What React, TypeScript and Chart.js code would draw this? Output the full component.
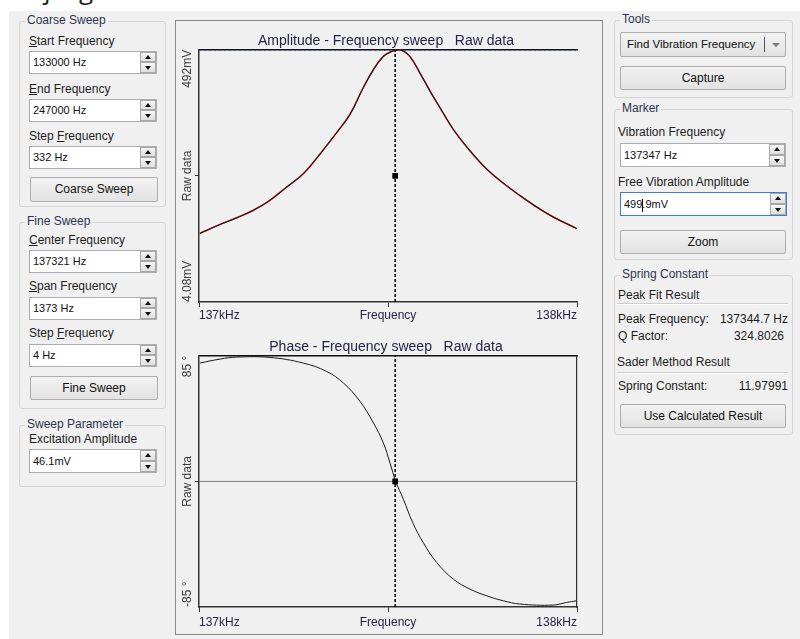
import React, { useEffect, useRef } from 'react';
import { Chart, registerables } from 'chart.js';

Chart.register(...registerables);

// ---------------- data ----------------
const freqMin = 136634.5;
const freqCenter = 137321;
const freqMax = 138007.5;
const markerFrequency = 137347;

const ampMin = 4.08;
const ampMax = 492;
const ampMarkerValue = 248.04;
const phaseMin = -85;
const phaseMax = 85;
const phaseMarkerValue = 0;

const ampTitle = 'Amplitude - Frequency sweep   Raw data';
const phaseTitle = 'Phase - Frequency sweep   Raw data';
const xTickLabels = ['137kHz', 'Frequency', '138kHz'];
const ampAxisLabels = ['4.08mV', 'Raw data', '492mV'];
const phaseAxisLabels = ['-85 °', 'Raw data', '85 °'];

const ampFreq = [136638, 136711, 136771, 136832, 136892, 136953, 137013, 137074, 137135, 137183, 137231, 137268, 137304, 137334, 137358, 137377, 137401, 137437, 137474, 137510, 137558, 137619, 137679, 137740, 137800, 137861, 137921, 138007];
const ampRaw = [136.6, 153.9, 166.8, 181.4, 200.6, 226.3, 251.9, 290.3, 332.0, 367.1, 418.4, 453.6, 479.1, 488.7, 492.0, 489.5, 479.1, 447.3, 411.9, 380.0, 338.3, 296.6, 261.5, 234.0, 210.2, 187.9, 168.7, 146.2];
const ampFit = [137.2, 154.3, 167.0, 181.6, 200.9, 226.5, 252.2, 290.5, 332.2, 367.4, 418.6, 453.8, 479.3, 488.8, 492.0, 489.4, 479.0, 447.1, 411.7, 379.8, 338.1, 296.4, 261.3, 233.8, 210.0, 187.7, 168.5, 146.0];

const phaseFreq = [136638, 136711, 136771, 136892, 137013, 137098, 137159, 137219, 137268, 137304, 137328, 137350, 137377, 137411, 137449, 137498, 137558, 137619, 137679, 137740, 137800, 137921, 137970, 138006];
const phaseRaw = [80.1, 82.8, 84.1, 83.9, 80.1, 74.4, 66.6, 54.2, 39.6, 26.1, 12.6, -0.5, -12.1, -28.0, -41.4, -54.9, -66.1, -72.9, -77.4, -80.8, -83.0, -83.7, -81.9, -80.8];

// ---------------- styling ----------------
const FONT = '"Liberation Sans", Arial, sans-serif';
const TXT = '#1e1e1e';
const GROUP_TXT = '#2c3550';

type Kind = 'amp' | 'phase';

const yLabelPlugin = (labels: string[]) => ({
  id: 'yAxisLabels',
  afterDraw(chart: any) {
    const { ctx } = chart;
    const s = chart.scales.y;
    const vals = [s.min, (s.min + s.max) / 2, s.max];
    const aligns = ['left', 'center', 'right'];
    ctx.save();
    ctx.font = `12px ${FONT}`;
    ctx.fillStyle = '#3a3a3a';
    ctx.textBaseline = 'middle';
    vals.forEach((v: number, i: number) => {
      ctx.save();
      ctx.translate(11.5, s.getPixelForValue(v));
      ctx.rotate(-Math.PI / 2);
      ctx.textAlign = aligns[i];
      ctx.fillText(labels[i], 0, 0);
      ctx.restore();
    });
    ctx.restore();
  },
});

function buildConfig(kind: Kind): any {
  const amp = kind === 'amp';
  const yMin = amp ? ampMin : phaseMin;
  const yMax = amp ? ampMax : phaseMax;
  const pts = (xs: number[], ys: number[]) => xs.map((x, i) => ({ x, y: ys[i] }));
  const datasets: any[] = [];
  if (amp) {
    datasets.push({ label: 'Fit', data: pts(ampFreq, ampFit), borderColor: '#e01818', borderWidth: 1.5, pointRadius: 0, tension: 0.4, order: 3 });
  }
  datasets.push({ label: 'Raw data', data: amp ? pts(ampFreq, ampRaw) : pts(phaseFreq, phaseRaw), borderColor: '#1a1a1a', borderWidth: amp ? 1.1 : 1, pointRadius: 0, tension: 0.4, order: 2 });
  if (amp) {
    datasets.push({ label: 'Peak level', data: [{ x: freqMin, y: ampMax }, { x: freqMax, y: ampMax }], borderColor: '#2c3cc8', borderWidth: 1.5, borderDash: [2, 3], pointRadius: 0, order: 4 });
  } else {
    datasets.push({ label: 'Zero', data: [{ x: freqMin, y: 0 }, { x: freqMax, y: 0 }], borderColor: '#808080', borderWidth: 1, pointRadius: 0, order: 4 });
  }
  datasets.push({ label: 'Marker line', data: [{ x: markerFrequency, y: yMin }, { x: markerFrequency, y: yMax }], borderColor: '#000', borderWidth: 1.5, borderDash: [3, 2], pointRadius: 0, order: 1 });
  datasets.push({ label: 'Marker', data: [{ x: markerFrequency, y: amp ? ampMarkerValue : phaseMarkerValue }], showLine: false, pointStyle: 'rect', pointRadius: 4, pointBackgroundColor: '#000', pointBorderColor: '#000', borderWidth: 0, order: 0 });

  const scales: any = {
    x: {
      type: 'linear', position: 'bottom', min: freqMin, max: freqMax,
      afterBuildTicks: (s: any) => { s.ticks = [{ value: freqMin }, { value: freqCenter }, { value: freqMax }]; },
      ticks: { align: 'inner', autoSkip: false, maxRotation: 0, minRotation: 0, padding: amp ? 1 : 3, color: '#2a2248', font: { family: FONT, size: 12 }, callback: (_v: any, i: number) => xTickLabels[i] },
      grid: { drawOnChartArea: false, drawTicks: true, tickLength: 5, color: '#333', lineWidth: 1 },
      border: { color: '#333', width: 1.5 },
    },
    x2: {
      type: 'linear', position: 'top', min: freqMin, max: freqMax,
      ticks: { display: false }, grid: { display: false, drawTicks: false },
      border: { color: '#111', width: 1.5 },
    },
    y: {
      type: 'linear', position: 'left', min: yMin, max: yMax,
      afterBuildTicks: (s: any) => { s.ticks = [{ value: yMin }, { value: (yMin + yMax) / 2 }, { value: yMax }]; },
      ticks: { display: false },
      grid: { drawOnChartArea: false, drawTicks: true, tickLength: 4, color: (c: any) => (c.index === 1 ? '#333' : 'rgba(0,0,0,0)') },
      border: { color: '#333', width: 1.5 },
    },
  };
  if (!amp) {
    scales.y2 = {
      type: 'linear', position: 'right', min: yMin, max: yMax,
      ticks: { display: false }, grid: { display: false, drawTicks: false },
      border: { color: '#333', width: 1.2 },
    };
  }

  return {
    type: 'line',
    data: { datasets },
    options: {
      animation: false,
      responsive: false,
      devicePixelRatio: 1,
      layout: { padding: { left: 19, right: 24, top: 0, bottom: amp ? 3.6 : 1.6 } },
      plugins: {
        legend: { display: false },
        tooltip: { enabled: false },
        title: { display: true, text: amp ? ampTitle : phaseTitle, color: '#23234a', font: { family: FONT, size: 14, weight: 'normal' }, padding: { top: 12, bottom: 0 } },
      },
      scales,
    },
    plugins: [yLabelPlugin(amp ? ampAxisLabels : phaseAxisLabels)],
  };
}

function ChartCanvas({ kind, top, height }: { kind: Kind; top: number; height: number }) {
  const ref = useRef<HTMLCanvasElement>(null);
  useEffect(() => {
    const chart = new Chart(ref.current as HTMLCanvasElement, buildConfig(kind));
    return () => chart.destroy();
  }, [kind]);
  return <canvas ref={ref} width={425} height={height} style={{ position: 'absolute', left: 176, top, width: 425, height }} />;
}

// ---------------- UI pieces ----------------
const abs = (x: number, y: number, w?: number, h?: number): React.CSSProperties => ({ position: 'absolute', left: x, top: y, width: w, height: h });
const fnt = (size: number, lh: string): React.CSSProperties => ({ fontFamily: FONT, fontSize: size, lineHeight: lh });

function Group({ x, y, w, h, label }: { x: number; y: number; w: number; h: number; label: string }) {
  return (
    <>
      <div style={{ ...abs(x, y, w, h), border: '1px solid #d6d6d6', borderRadius: 3, boxSizing: 'border-box' }} />
      <div style={{ position: 'absolute', left: x + 6, top: y - 8, background: '#f0f0f0', padding: '0 2px', ...fnt(12, '15px'), color: GROUP_TXT, whiteSpace: 'nowrap' }}>{label}</div>
    </>
  );
}

function Text({ x, cy, children, right, color = TXT, size = 12 }: { x: number; cy: number; children: React.ReactNode; right?: boolean; color?: string; size?: number }) {
  const st: React.CSSProperties = { position: 'absolute', top: cy - 8, ...fnt(size, '16px'), color, whiteSpace: 'nowrap' };
  if (right) st.right = 800 - x; else st.left = x;
  return <div style={st}>{children}</div>;
}

const tri = (up: boolean): React.CSSProperties => ({
  position: 'absolute', left: 4, top: up ? 2 : 3, width: 0, height: 0,
  borderLeft: '3.5px solid transparent', borderRight: '3.5px solid transparent',
  ...(up ? { borderBottom: '4px solid #111' } : { borderTop: '4px solid #111' }),
});

function Spinner({ h }: { h: number }) {
  const half = Math.floor(h / 2);
  const box: React.CSSProperties = { position: 'absolute', left: 0, width: 16, border: '1px solid #a8a8a8', background: 'linear-gradient(#f6f6f6,#dedede)', boxSizing: 'border-box' };
  return (
    <div style={{ position: 'absolute', right: 0, top: 0, width: 16, height: h }}>
      <div style={{ ...box, top: 0, height: half }}><div style={tri(true)} /></div>
      <div style={{ ...box, top: half, height: h - half }}><div style={tri(false)} /></div>
    </div>
  );
}

function Input({ x, y, w, h = 23, focused, children }: { x: number; y: number; w: number; h?: number; focused?: boolean; children: React.ReactNode }) {
  return (
    <div style={{ ...abs(x, y, w, h), background: '#fff', border: `1px solid ${focused ? '#3c7fd1' : '#abadb3'}`, boxSizing: 'border-box' }}>
      <div style={{ position: 'absolute', left: 3, top: 0, ...fnt(11, `${h - 2}px`), color: '#111', whiteSpace: 'nowrap' }}>{children}</div>
      <Spinner h={h - 2} />
    </div>
  );
}

function Button({ x, y, w, h, text }: { x: number; y: number; w: number; h: number; text: string }) {
  return (
    <div style={{ ...abs(x, y, w, h), border: '1px solid #adadad', background: 'linear-gradient(#f2f2f2,#e2e2e2)', boxSizing: 'border-box', textAlign: 'center', ...fnt(12, `${h - 2}px`), color: '#111', borderRadius: 2 }}>{text}</div>
  );
}

function Sep({ x, y, w }: { x: number; y: number; w: number }) {
  return <div style={{ ...abs(x, y, w, 1), background: '#cfcfcf', borderBottom: '1px solid #fafafa' }} />;
}

export default function App() {
  return (
    <div style={{ position: 'absolute', left: 0, top: 0, width: 800, height: 639, overflow: 'hidden', background: '#fff', fontFamily: FONT }}>
      {/* cut-off caption glyphs at very top */}
      <div style={{ position: 'absolute', left: 44, top: -24, fontFamily: '"Open Sans", sans-serif', fontSize: 26, lineHeight: '26px', color: '#222' }}>j</div>
      <div style={{ position: 'absolute', left: 79, top: -24, fontFamily: '"Open Sans", sans-serif', fontSize: 26, lineHeight: '26px', color: '#222' }}>g</div>

      <div style={{ ...abs(9, 11, 791, 628), background: '#f0f0f0' }} />

      {/* Coarse sweep */}
      <Group x={19} y={21} w={147} h={186} label="Coarse Sweep" />
      <Text x={29} cy={41}><u>S</u>tart Frequency</Text>
      <Input x={29} y={51} w={128}>133000 Hz</Input>
      <Text x={29} cy={89}><u>E</u>nd Frequency</Text>
      <Input x={29} y={99} w={128}>247000 Hz</Input>
      <Text x={29} cy={136}>Step <u>F</u>requency</Text>
      <Input x={29} y={146} w={128}>332 Hz</Input>
      <Button x={30} y={177} w={128} h={25} text="Coarse Sweep" />

      {/* Fine sweep */}
      <Group x={19} y={222} w={147} h={187} label="Fine Sweep" />
      <Text x={29} cy={240}><u>C</u>enter Frequency</Text>
      <Input x={29} y={250} w={128}>137321 Hz</Input>
      <Text x={29} cy={286}><u>S</u>pan Frequency</Text>
      <Input x={29} y={297} w={128}>1373 Hz</Input>
      <Text x={29} cy={333}>Step <u>F</u>requency</Text>
      <Input x={29} y={344} w={128}>4 Hz</Input>
      <Button x={30} y={376} w={128} h={24} text="Fine Sweep" />

      {/* Sweep parameter */}
      <Group x={19} y={425} w={147} h={62} label="Sweep Parameter" />
      <Text x={29} cy={439}>Excitation Amplitude</Text>
      <Input x={29} y={449} w={128} h={24}>46.1mV</Input>

      {/* Chart panel */}
      <div style={{ ...abs(175, 20, 428, 615), border: '1px solid #8a8a8a', boxSizing: 'border-box' }} />
      <ChartCanvas kind="amp" top={21} height={306} />
      <ChartCanvas kind="phase" top={327} height={307} />

      {/* Tools */}
      <Group x={614} y={20} w={179} h={78} label="Tools" />
      <div style={{ ...abs(620, 32, 166, 25), border: '1px solid #adadad', background: 'linear-gradient(#f2f2f2,#e2e2e2)', boxSizing: 'border-box', borderRadius: 2 }}>
        <div style={{ position: 'absolute', left: 6, top: 0, ...fnt(11.5, '23px'), color: '#111', whiteSpace: 'nowrap' }}>Find Vibration Frequency</div>
        <div style={{ position: 'absolute', left: 143, top: 4, width: 1, height: 15, background: '#555' }} />
        <div style={{ position: 'absolute', left: 151, top: 10, width: 0, height: 0, borderLeft: '4px solid transparent', borderRight: '4px solid transparent', borderTop: '4px solid #777' }} />
      </div>
      <Button x={620} y={66} w={166} h={24} text="Capture" />

      {/* Marker */}
      <Group x={614} y={109} w={179} h={151} label="Marker" />
      <Text x={618} cy={132}>Vibration Frequency</Text>
      <Input x={620} y={143} w={166} h={24}>137347 Hz</Input>
      <Text x={618} cy={182}>Free Vibration Amplitude</Text>
      <Input x={620} y={192} w={167} h={24} focused>
        499<span style={{ display: 'inline-block', width: 1, height: 13, background: '#000', verticalAlign: 'middle', marginRight: -1 }} />.9mV
      </Input>
      <Button x={620} y={230} w={166} h={24} text="Zoom" />

      {/* Spring constant */}
      <Group x={614} y={275} w={179} h={160} label="Spring Constant" />
      <Text x={618} cy={295}>Peak Fit Result</Text>
      <Sep x={617} y={303} w={171} />
      <Text x={618} cy={319}>Peak Frequency:</Text>
      <Text x={788} cy={319} right>137344.7 Hz</Text>
      <Text x={618} cy={336}>Q Factor:</Text>
      <Text x={784} cy={336} right>324.8026</Text>
      <Text x={617} cy={362}>Sader Method Result</Text>
      <Sep x={617} y={372} w={171} />
      <Text x={618} cy={386}>Spring Constant:</Text>
      <Text x={788} cy={386} right>11.97991</Text>
      <Button x={620} y={404} w={166} h={24} text="Use Calculated Result" />
    </div>
  );
}
